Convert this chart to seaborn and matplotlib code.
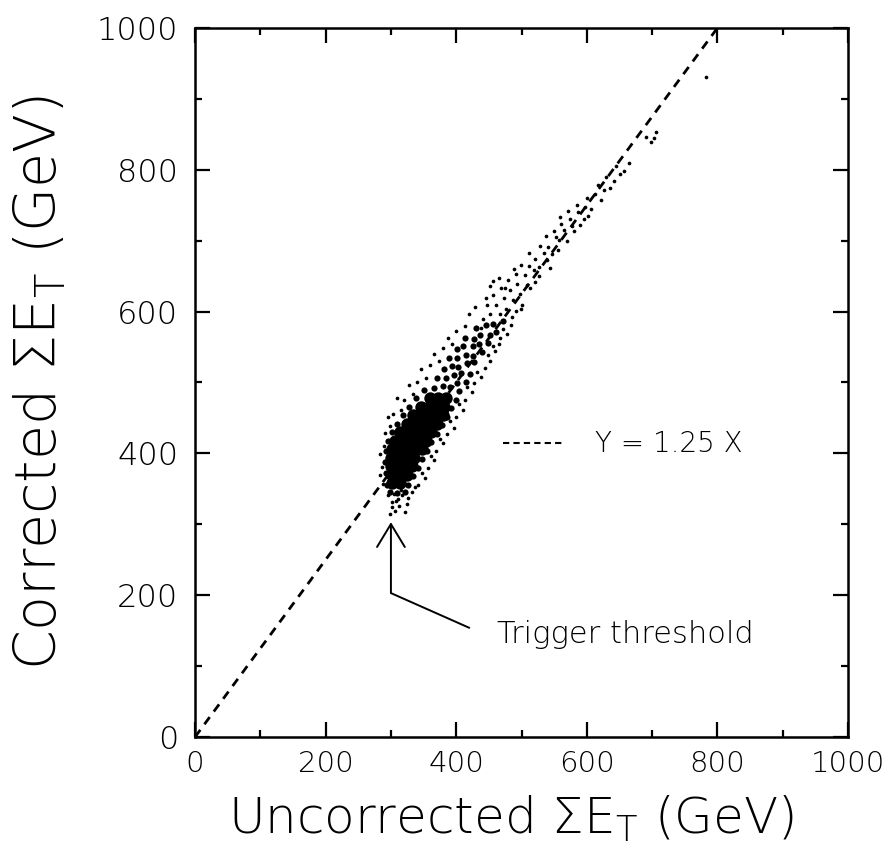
import numpy as np
import pandas as pd
import matplotlib
matplotlib.use('Agg')
import matplotlib.pyplot as plt
import seaborn as sns

# event cloud, (uncorrected, corrected) sum ET in GeV
# solid core
core_pts = [(302, 358), (314, 358),
            (301, 370), (313, 370), (324, 370),
            (300, 382), (312, 382), (324, 382), (332, 382),
            (300, 394), (312, 394), (324, 394), (336, 394),
            (302, 406), (314, 406), (326, 406), (338, 406), (348, 406),
            (306, 418), (318, 418), (330, 418), (342, 418), (354, 418),
            (314, 430), (326, 430), (338, 430), (350, 430), (362, 430),
            (324, 442), (336, 442), (348, 442), (360, 442), (370, 442),
            (334, 454), (346, 454), (358, 454), (370, 454), (380, 454),
            (346, 466), (358, 466), (370, 466), (382, 466),
            (360, 478), (372, 478), (384, 478)]

# dense shell around the core
mid_pts = [(294, 356), (292, 372), (291, 388), (292, 404), (296, 418), (302, 430), (310, 442),
           (318, 454), (328, 466), (338, 478), (350, 490),
           (326, 356), (334, 368), (342, 380), (348, 392), (356, 404), (362, 416), (370, 428),
           (378, 440), (386, 452), (392, 464), (400, 476), (404, 488),
           (298, 346), (310, 344), (322, 346),
           (366, 492), (379, 495), (391, 494), (401, 499), (415, 501),
           (371, 507), (385, 506), (397, 511), (407, 513), (421, 512),
           (381, 519), (393, 523), (403, 522), (417, 527), (427, 529),
           (389, 535), (401, 534), (415, 539), (425, 538), (439, 543),
           (401, 547), (411, 551), (425, 551), (435, 555), (449, 556),
           (413, 563), (427, 562), (437, 567), (451, 567), (461, 571),
           (431, 577), (445, 581), (457, 583), (471, 587)]

# sparse halo and high-ET tail
dot_pts = [(301, 331), (306, 319), (311, 336), (317, 341), (326, 337), (313, 326), (321, 317),
           (299, 314), (302, 324), (324, 328), (308, 333), (333, 346), (337, 353), (295, 341),
           (288, 357), (316, 349), (304, 343),
           (283, 369), (287, 381), (284, 399), (289, 411), (291, 429), (299, 438), (303, 455),
           (315, 461), (320, 476), (334, 484), (340, 501), (354, 507), (360, 525), (374, 531),
           (380, 549), (394, 555), (400, 573), (413, 580), (419, 597), (296, 452), (310, 478),
           (327, 497), (346, 519), (366, 540), (387, 563),
           (341, 356), (347, 372), (357, 380), (361, 397), (369, 404), (375, 420), (386, 428),
           (390, 445), (400, 451), (404, 469), (414, 475), (416, 493), (428, 499), (432, 515),
           (444, 521), (448, 539), (460, 545), (456, 551), (467, 563), (472, 575), (484, 581),
           (352, 366), (366, 391), (380, 414), (396, 436), (410, 461), (424, 486), (438, 508),
           (452, 530), (465, 555), (478, 568),
           (441, 589), (451, 597), (467, 596), (477, 603), (491, 601), (447, 610), (461, 609),
           (473, 619), (487, 617), (497, 625), (457, 623), (469, 633), (483, 631), (493, 639),
           (509, 638), (465, 647), (479, 645), (491, 653), (505, 651), (519, 659), (429, 606),
           (445, 619), (457, 643), (501, 610), (513, 633), (438, 577), (485, 593), (499, 604),
           (475, 633), (488, 660), (452, 636), (520, 642), (527, 650),
           (511, 664), (527, 663), (539, 673), (521, 674), (535, 683), (547, 681), (529, 692),
           (541, 691), (557, 701), (537, 706), (553, 705), (565, 715), (549, 713), (561, 723),
           (577, 721), (559, 733), (575, 731), (587, 741), (571, 742), (585, 751), (597, 747),
           (511, 682), (499, 666), (595, 731), (581, 713), (607, 745), (556, 687), (570, 700),
           (590, 722), (544, 662), (602, 735),
           (601, 760), (613, 766), (621, 758), (627, 772), (635, 774), (617, 779), (641, 784),
           (651, 794), (657, 798), (665, 810), (645, 806), (630, 790),
           (698, 839), (703, 845), (706, 853), (690, 846), (782, 931)]

core_x, core_y = zip(*core_pts)
mid_x, mid_y = zip(*mid_pts)
dot_x, dot_y = zip(*dot_pts)

# Y = 1.25 X reference line
line_x = [0, 800]
line_y = [0, 1000]

ticks = [0, 200, 400, 600, 800, 1000]

sns.set_style('ticks', {'axes.edgecolor': 'black', 'text.color': 'black',
                        'axes.labelcolor': 'black', 'xtick.color': 'black',
                        'ytick.color': 'black'})
plt.rcParams['font.family'] = ['DejaVu Sans']
plt.rcParams['font.weight'] = 'light'
plt.rcParams['axes.labelweight'] = 'light'
plt.rcParams['mathtext.fontset'] = 'custom'
plt.rcParams['mathtext.rm'] = 'DejaVu Sans:light'

fig = plt.figure(figsize=(8.93, 8.61), dpi=100)
ax = fig.add_axes([0.2184, 0.1440, 0.7312, 0.8235])

sns.lineplot(x=line_x, y=line_y, ax=ax, color='black', lw=2.0,
             linestyle=(0, (3.2, 2.5)))
sns.scatterplot(x=dot_x, y=dot_y, ax=ax, color='black', s=7, linewidth=0)
sns.scatterplot(x=mid_x, y=mid_y, ax=ax, color='black', s=20, linewidth=0)
sns.scatterplot(x=core_x, y=core_y, ax=ax, color='black', s=80, linewidth=0)

ax.set_xlim(0, 1000)
ax.set_ylim(0, 1000)
ax.set_xticks(ticks)
ax.set_yticks(ticks)
ax.set_xticks(range(100, 1000, 200), minor=True)
ax.set_yticks(range(100, 1000, 200), minor=True)
ax.tick_params(which='both', direction='in', top=True, right=True, width=1.6)
ax.tick_params(which='major', length=10.5)
ax.tick_params(which='minor', length=5)
ax.tick_params(axis='x', labelsize=21, pad=9)
ax.tick_params(axis='y', labelsize=23, pad=12)
for s in ax.spines.values():
    s.set_linewidth(1.8)

ax.set_xlabel(r'Uncorrected ΣE$_\mathrm{T}$ (GeV)', fontsize=36, fontweight='light')
ax.set_ylabel(r'Corrected ΣE$_\mathrm{T}$ (GeV)', fontsize=41, fontweight='light')
ax.xaxis.set_label_coords(0.484, -0.08)
ax.yaxis.set_label_coords(-0.194, 0.5)

# legend entry for the dashed line
ax.plot([472, 567], [415, 415], color='black', lw=1.5, linestyle=(0, (3, 2)))
ax.text(613, 402, 'Y = 1.25 X', fontsize=20, fontweight='light', va='baseline')

# trigger threshold arrow
ax.annotate('', xy=(300, 303), xytext=(300, 203),
            arrowprops=dict(arrowstyle='->,head_length=1.65,head_width=1.0',
                            color='black', lw=1.4, shrinkA=0, shrinkB=0))
ax.plot([300, 420], [203, 154], color='black', lw=1.4)
ax.text(462, 133, 'Trigger threshold', fontsize=22, fontweight='light',
        va='baseline')

fig.savefig('out.png', dpi=100)
